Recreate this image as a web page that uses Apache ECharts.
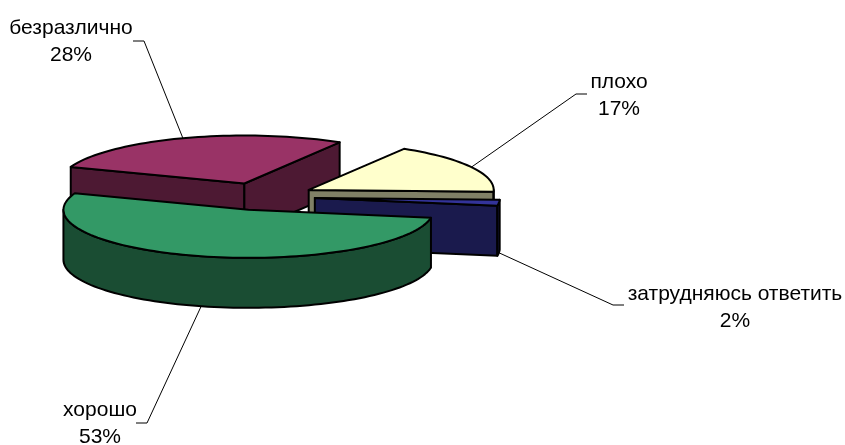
<!DOCTYPE html>
<html>
<head>
<meta charset="utf-8">
<style>html,body{margin:0;padding:0;background:#fff}#chart{width:845px;height:445px}</style>
<script src="https://cdn.jsdelivr.net/npm/echarts@6/dist/echarts.min.js"></script>
</head>
<body>
<div id="chart"></div>
<script>
// data
const sliceNames = ['плохо', 'затрудняюсь ответить', 'хорошо', 'безразлично'];
const sliceValues = [17, 2, 53, 28];

// look of the fake 3D pie
const topColors = ['#ffffcc', '#333399', '#339966', '#993366'];
const sideColors = ['#808066', '#1a1a4d', '#1a4d33', '#4d1933'];
const drawOrder = [3, 0, 1, 2];
const labelPos = [[619, 96], [735, 308], [100, 424], [71, 42]];
const elbows = [[[576, 94], [587, 94]], [[613, 305], [624, 305]], [[147, 423], [136, 423]], [[144, 41], [133, 41]]];

const cx = 262, cy = 196.5, rx = 185, ry = 48, depth = 50, explode = 0.287, startDeg = 31;
const total = sliceValues.reduce((a, b) => a + b, 0);
const rad = Math.PI / 180;

function sliceAngles(i) {
    let a = startDeg;
    for (let k = 0; k < i; k++) a += sliceValues[k] / total * 360;
    return [a, a + sliceValues[i] / total * 360];
}

function planePoint(apex, deg, r) {
    return [apex[0] + rx * r * Math.sin(deg * rad), apex[1] - ry * r * Math.cos(deg * rad)];
}

function arcPoints(apex, a, b) {
    const pts = [];
    const n = Math.max(2, Math.ceil((b - a) / 2));
    for (let k = 0; k <= n; k++) pts.push(planePoint(apex, a + (b - a) * k / n, 1));
    return pts;
}

const down = p => [p[0], p[1] + depth];
const edge = { stroke: '#000', lineWidth: 2, lineJoin: 'round' };

function poly(points, fill) {
    return { type: 'polygon', silent: true, shape: { points }, style: Object.assign({ fill }, edge) };
}

function renderSlice(params, api) {
    const i = drawOrder[params.dataIndex];
    const [a, b] = sliceAngles(i);
    const mid = (a + b) / 2;
    const apex = planePoint([cx, cy], mid, explode);
    const side = sideColors[i];
    const kids = [];

    // radial walls, only those turned to the viewer
    if (Math.sin(a * rad) < 0) {
        const p = planePoint(apex, a, 1);
        kids.push(poly([apex, p, down(p), down(apex)], side));
    }
    if (Math.sin(b * rad) > 0) {
        const p = planePoint(apex, b, 1);
        kids.push(poly([apex, p, down(p), down(apex)], side));
    }
    // outer wall for the part of the rim in the front half
    const from = Math.max(a, 90), to = Math.min(b, 270);
    if (to > from) {
        const rim = arcPoints(apex, from, to);
        kids.push(poly(rim.concat(rim.map(down).reverse()), side));
    }
    // top face
    kids.push(poly([apex].concat(arcPoints(apex, a, b)), topColors[i]));
    return { type: 'group', children: kids };
}

function renderLabel(params, api) {
    const i = params.dataIndex;
    const [a, b] = sliceAngles(i);
    const mid = (a + b) / 2;
    const apex = planePoint([cx, cy], mid, explode);
    let anchor = planePoint(apex, mid, 1);
    if (Math.cos(mid * rad) < 0) anchor = down(anchor);
    return {
        type: 'group',
        children: [
            {
                type: 'polyline', silent: true,
                shape: { points: [anchor].concat(elbows[i]) },
                style: { fill: 'none', stroke: '#000', lineWidth: 1 }
            },
            {
                type: 'text', silent: true, x: labelPos[i][0], y: labelPos[i][1],
                style: {
                    text: sliceNames[i] + '\n' + sliceValues[i] + '%',
                    fill: '#000', align: 'center', verticalAlign: 'middle',
                    font: '21px "Liberation Sans", Arial, sans-serif', lineHeight: 27
                }
            }
        ]
    };
}

const chart = echarts.init(document.getElementById('chart'), null, { renderer: 'canvas' });
chart.setOption({
    animation: false,
    backgroundColor: '#fff',
    tooltip: { show: false },
    series: [
        { type: 'custom', coordinateSystem: 'none', z: 2, renderItem: renderLabel, data: sliceValues },
        { type: 'custom', coordinateSystem: 'none', z: 3, renderItem: renderSlice, data: drawOrder.map(i => sliceValues[i]) }
    ]
});
</script>
</body>
</html>
